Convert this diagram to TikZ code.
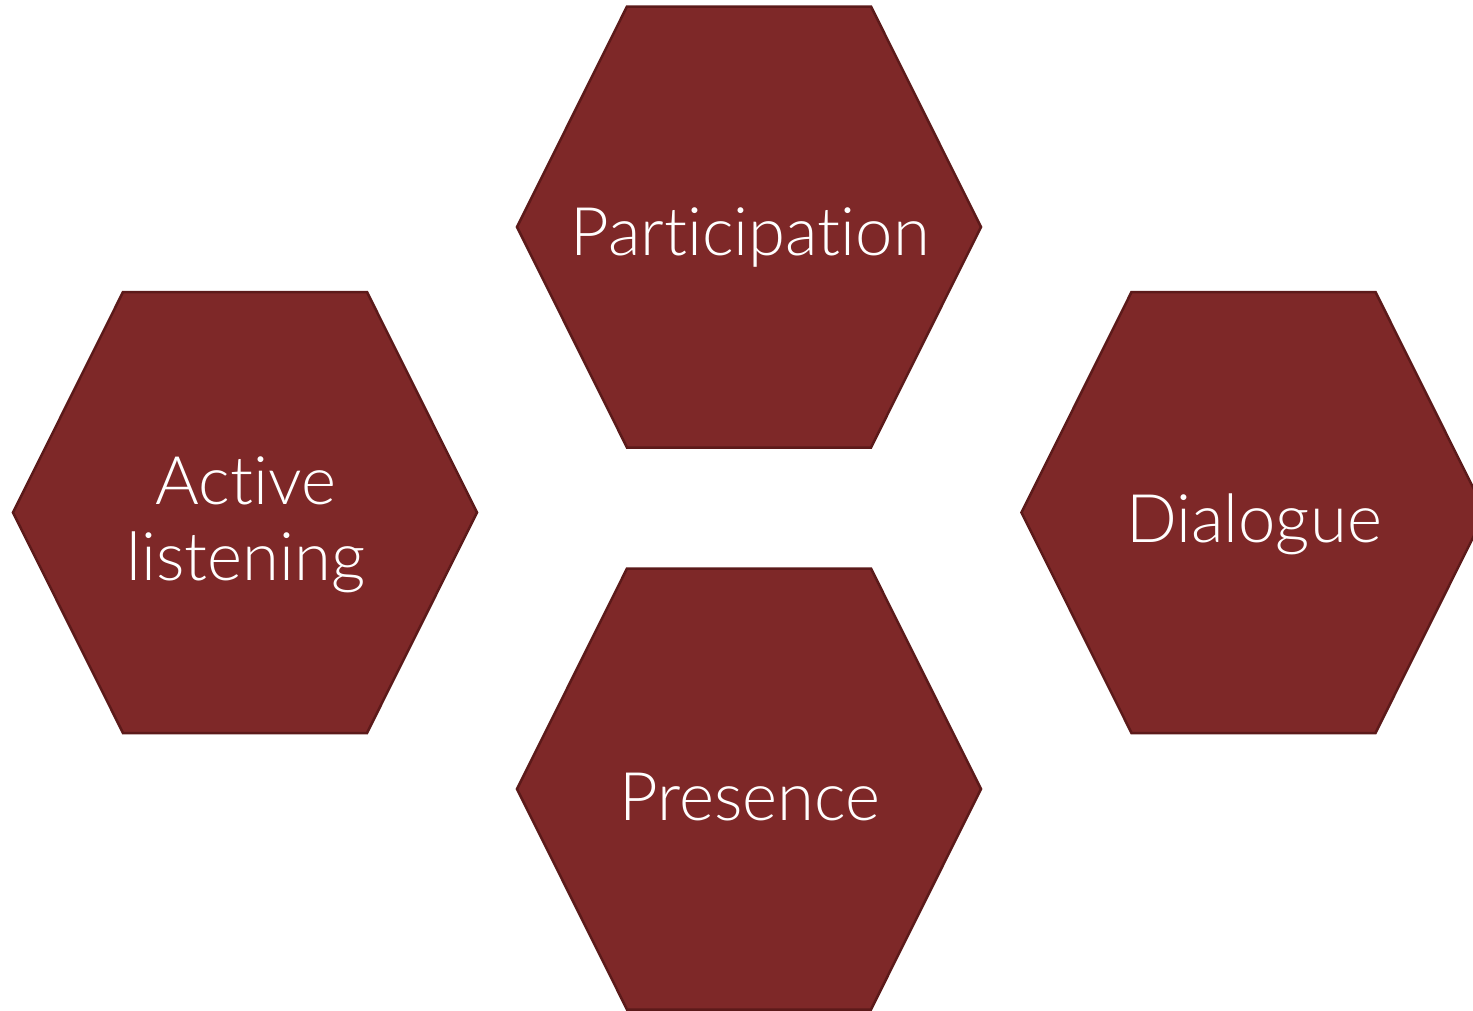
\documentclass[tikz,border=0pt]{standalone}
\usepackage{fontspec}
\setmainfont{Lato}[UprightFont=* Light, RawFeature={-liga;-dlig}]
\definecolor{hexfill}{RGB}{126,40,40}
\definecolor{hexline}{RGB}{92,26,26}
\tikzset{
  hexbox/.style={fill=hexfill, draw=hexline, line width=2.5pt, line join=miter},
  hexlabel/.style={text=white, font=\fontsize{67}{76}\selectfont, align=center, anchor=base, inner sep=0pt}
}
\newcommand{\hexshape}[3]{%
  \path[hexbox] (#2-122,#3-220.5) -- (#2+122,#3-220.5) -- (#2+232,#3) -- (#2+122,#3+220.5) -- (#2-122,#3+220.5) -- (#2-232,#3) -- cycle;
  \coordinate (#1) at (#2,#3);
}
\begin{document}
\begin{tikzpicture}[x=1pt,y=-1pt]
\useasboundingbox (0,0) rectangle (1473,1010);
\hexshape{hpart}{749}{227}
\hexshape{hact}{245}{512.5}
\hexshape{hdia}{1253.5}{512.5}
\hexshape{hpre}{749}{789}
\node[hexlabel] (tpart) at (750,255) {Participation};
\node[hexlabel] (tact) at (246,580) {Active\\listening};
\node[hexlabel] (tdia) at (1254,542) {Dialogue};
\node[hexlabel] (tpre) at (750,820) {Presence};
\end{tikzpicture}
\end{document}
